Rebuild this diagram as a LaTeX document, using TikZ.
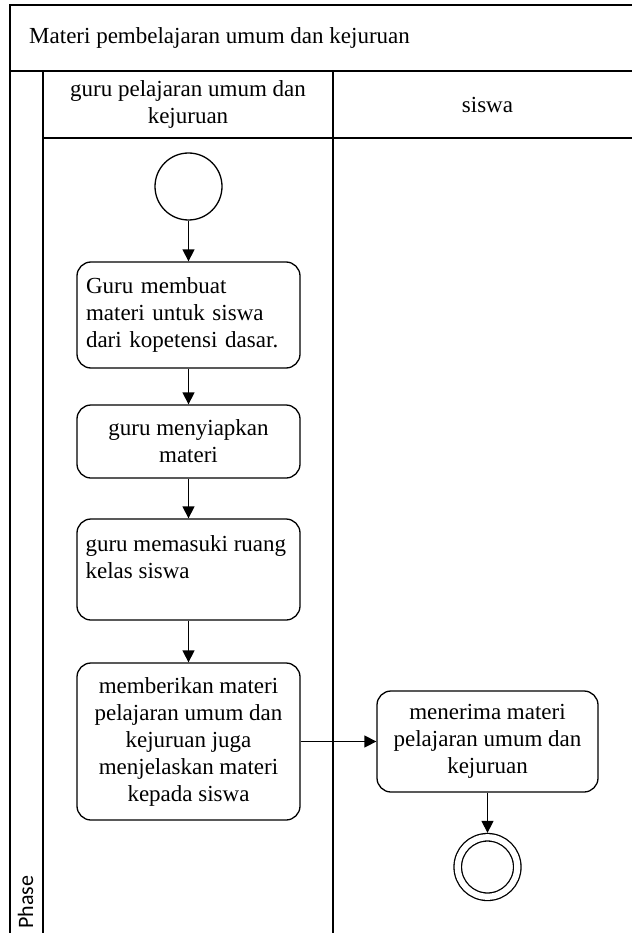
\documentclass[tikz,border=0pt]{standalone}
\usepackage{fontspec}
\setmainfont{Liberation Serif}
\newfontfamily\phasefont{Carlito}
\usetikzlibrary{arrows.meta}

\begin{document}
\begin{tikzpicture}[x=1pt,y=-1pt,
  pool/.style={line width=1.5pt},
  labeltext/.style={font=\fontsize{23}{27}\selectfont, align=center, inner sep=0pt},
  act/.style={draw, line width=1.3pt, rounded corners=14pt, minimum width=223pt,
    inner sep=0pt, font=\fontsize{23}{27}\selectfont, align=center},
  event/.style={draw, circle, line width=1.3pt, inner sep=0pt},
  flow/.style={line width=1.3pt, -{Triangle[length=12pt,width=12pt]}}]

\useasboundingbox (0,0) rectangle (632,933);

% pool frame, lanes and header bands
\draw[pool] (10,933) -- (10,5) -- (632,5);
\draw[pool] (10,71) -- (632,71);
\draw[pool] (43,71) -- (43,933);
\draw[pool] (43,138) -- (632,138);
\draw[pool] (333,71) -- (333,933);

\node[labeltext, anchor=west] (pooltitle) at (29,38) {Materi pembelajaran umum dan kejuruan};
\node[labeltext] (laneguru) at (188,104.5) {guru pelajaran umum dan\\kejuruan};
\node[labeltext] (lanesiswa) at (487.5,105) {siswa};
\node[rotate=90, inner sep=0pt, font=\phasefont\fontsize{22}{24}\selectfont] (phase) at (25.5,902) {Phase};

% activities
\node[event, minimum size=67pt] (start) at (188.5,186.5) {};

\node[act, minimum height=106pt, align=left, text width=205pt] (b1) at (188.5,315)
  {Guru membuat\\materi untuk siswa\\dari kopetensi dasar.};

\node[act, minimum height=73pt] (b2) at (188.5,441.5) {guru menyiapkan\\materi};

\node[act, minimum height=101pt,
  label={[labeltext, align=left, anchor=north west, label distance=0pt,
          xshift=9pt, yshift=-17pt]north west:guru memasuki ruang\\kelas siswa}]
  (b3) at (188.5,569.5) {};

\node[act, minimum height=157pt] (b4) at (188.5,741.5)
  {memberikan materi\\pelajaran umum dan\\kejuruan juga\\menjelaskan materi\\kepada siswa};

\node[act, minimum height=101pt, minimum width=221pt] (b5) at (487.5,741.5)
  {menerima materi\\pelajaran umum dan\\kejuruan};

\node[event, double, double distance=6.2pt, minimum size=59.5pt, outer sep=4.4pt] (end) at (487.5,867) {};

% control flow
\draw[flow] (start) -- (b1);
\draw[flow] (b1) -- (b2);
\draw[flow] (b2) -- (b3);
\draw[flow] (b3) -- (b4);
\draw[flow] (b4) -- (b5);
\draw[flow] (b5) -- (end);

\end{tikzpicture}
\end{document}
